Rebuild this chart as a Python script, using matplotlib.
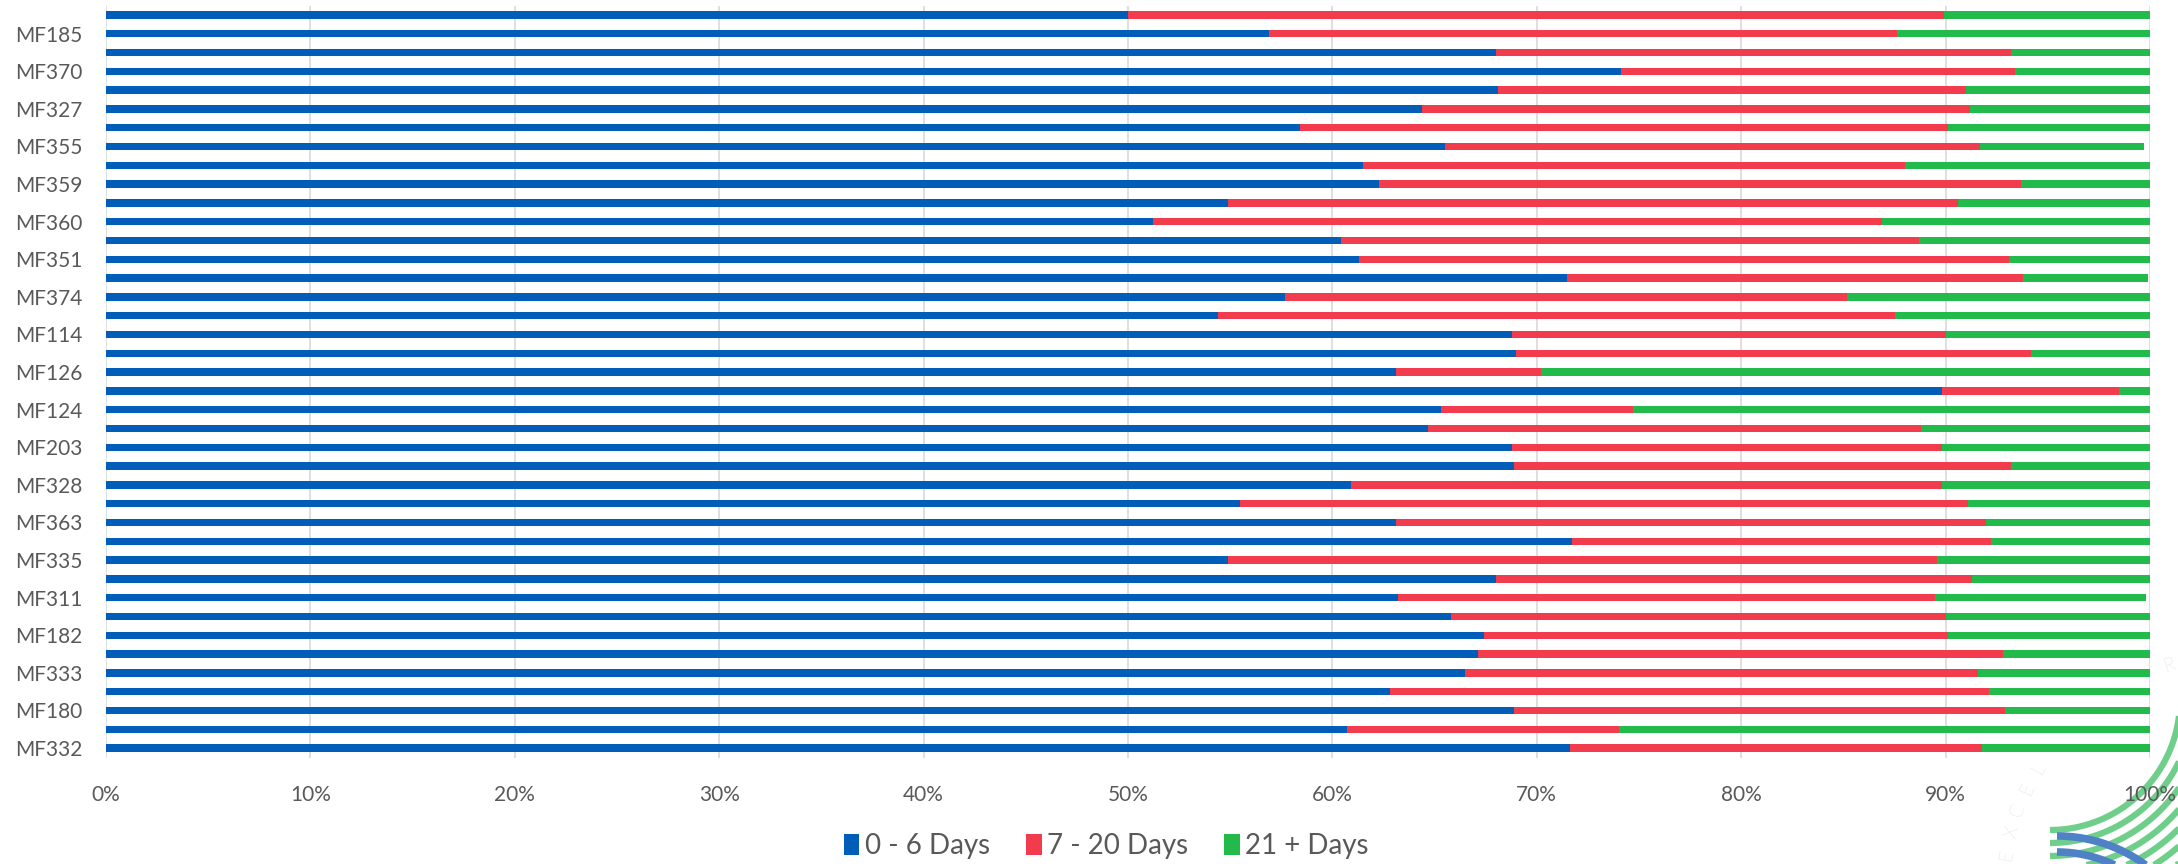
import numpy as np
import matplotlib.pyplot as plt

plt.rcParams["font.family"] = ["Lato", "DejaVu Sans"]

# categories, top to bottom (only every other one is labelled on the axis)
labels = ["", "MF185", "", "MF370", "", "MF327", "", "MF355", "", "MF359",
          "", "MF360", "", "MF351", "", "MF374", "", "MF114", "", "MF126",
          "", "MF124", "", "MF203", "", "MF328", "", "MF363", "", "MF335",
          "", "MF311", "", "MF182", "", "MF333", "", "MF180", "", "MF332"]

# share of cases (%) per band
days_0_6 = [50.0, 56.9, 68.0, 74.1, 68.1, 64.4, 58.4, 65.5, 61.5, 62.3,
            54.9, 51.2, 60.4, 61.3, 71.5, 57.7, 54.4, 68.8, 69.0, 63.1,
            89.8, 65.3, 64.7, 68.8, 68.9, 60.9, 55.5, 63.1, 71.7, 54.9,
            68.0, 63.2, 65.8, 67.4, 67.1, 66.5, 62.8, 68.9, 60.7, 71.6]
days_7_20 = [39.9, 30.7, 25.2, 19.3, 22.9, 26.8, 31.7, 26.2, 26.5, 31.4,
             35.7, 35.7, 28.3, 31.8, 22.3, 27.5, 33.1, 21.2, 25.2, 7.1,
             8.7, 9.4, 24.1, 21.0, 24.3, 28.9, 35.6, 28.9, 20.5, 34.7,
             23.3, 26.3, 24.2, 22.7, 25.7, 25.1, 29.3, 24.0, 13.3, 20.2]
days_21 = [10.1, 12.4, 6.8, 6.6, 9.0, 8.8, 9.9, 8.0, 12.0, 6.3,
           9.4, 13.1, 11.3, 6.9, 6.1, 14.8, 12.5, 10.0, 5.8, 29.8,
           1.5, 25.3, 11.2, 10.2, 6.8, 10.2, 8.9, 8.0, 7.8, 10.4,
           8.7, 10.3, 10.0, 9.9, 7.2, 8.4, 7.9, 7.1, 26.0, 8.2]

series_names = ["0 - 6 Days", "7 - 20 Days", "21 + Days"]
colors = ["#005EB8", "#F23B4C", "#22BB4B"]
xticks = list(range(0, 101, 10))
grey = "#595959"

fig = plt.figure(figsize=(21.78, 8.64), dpi=100)
ax = fig.add_axes([106 / 2178, 1 - 757.5 / 864, 2044 / 2178, 752 / 864])

y = np.arange(len(labels))
left = np.zeros(len(labels))
for vals, name, col in zip([days_0_6, days_7_20, days_21], series_names, colors):
    vals = np.array(vals)
    ax.barh(y, vals, left=left, height=0.4, color=col, label=name, zorder=2)
    left = left + vals

ax.set_xlim(0, 100)
ax.set_ylim(len(labels) - 0.5, -0.5)
ax.set_xticks(xticks)
ax.set_xticklabels([f"{t}%" for t in xticks])
ax.set_yticks(y)
ax.set_yticklabels(labels)
ax.tick_params(axis="both", length=0, labelsize=15, labelcolor=grey)
ax.tick_params(axis="x", pad=20)
ax.tick_params(axis="y", pad=17)
ax.grid(axis="x", color="#D9D9D9", linewidth=1.2, zorder=0)
for s in ax.spines.values():
    s.set_visible(False)

fig.legend(loc="center", bbox_to_anchor=(0.508, 0.021), ncol=3, frameon=False,
           fontsize=20, labelcolor=grey, handlelength=0.55, handleheight=0.8,
           handletextpad=0.2, columnspacing=1.3)

# faint logo watermark in the bottom-right corner
wm = fig.add_axes([0, 0, 1, 1], zorder=-1)
wm.set_xlim(0, 2178)
wm.set_ylim(864, 0)
wm.axis("off")
t = np.radians(np.linspace(0, 90, 200))
for r in [130, 143, 156, 169, 182, 195, 208]:
    wm.plot(2050 + r * np.cos(t), 700 + r * np.sin(t), color="#6FCF8A", lw=4.5,
            solid_capstyle="butt")
t = np.radians(np.linspace(-90, -20, 200))
for r in [150, 134, 118]:
    wm.plot(2057 + r * np.cos(t), 986 + r * np.sin(t), color="#4F81C7", lw=5.5,
            solid_capstyle="butt")
letters = "EXCELLENCE"
for i, ch in enumerate(letters):
    a = 171 - i * 5.56
    ar = np.radians(a)
    wm.text(2242 + 238 * np.cos(ar), 892 - 238 * np.sin(ar), ch, rotation=a - 90,
            ha="center", va="center", fontsize=14, color="#C4C4C4",
            fontweight="light")
a = 107.6
ar = np.radians(a)
wm.text(2242 + 238 * np.cos(ar), 892 - 238 * np.sin(ar), "R", rotation=a - 90,
        ha="center", va="center", fontsize=14, color="#C4C4C4", fontweight="light")

fig.savefig("out.png", dpi=100)
